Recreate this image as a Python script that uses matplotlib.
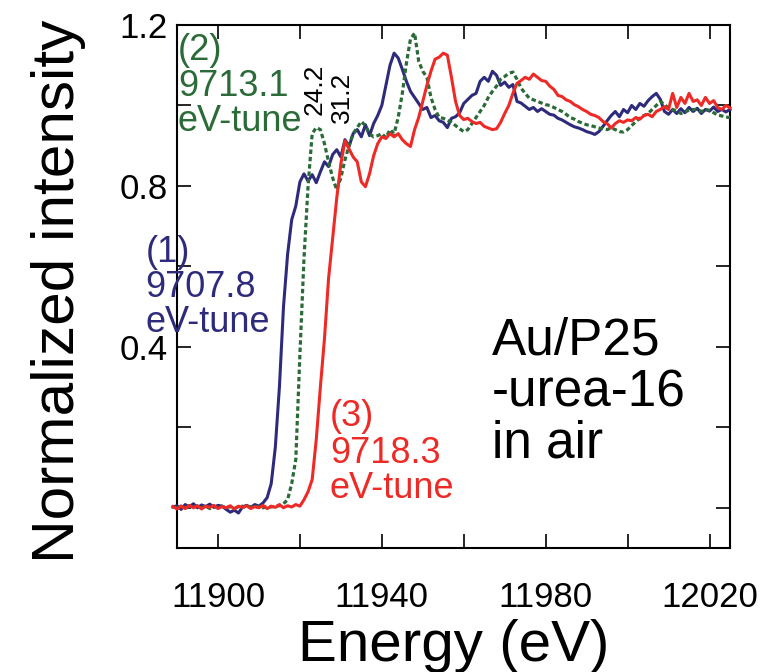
import numpy as np
import matplotlib
matplotlib.use('Agg')
import matplotlib.pyplot as plt

plt.rcParams['font.family'] = ['Liberation Sans', 'DejaVu Sans']

# ---- data ----
energy = np.arange(11889, 12026)  # eV, 1 eV sampling

tune1 = [0.002, 0.005, -0.004, 0.008, 0.002, 0.010, 0.000, 0.007, 0.003, 0.009,
         0.001, 0.006, 0.004, -0.004, -0.011, -0.006, -0.013, 0.002, 0.006, 0.001,
         0.008, 0.004, 0.012, 0.025, 0.06, 0.15, 0.30, 0.50, 0.63, 0.716,
         0.75, 0.81, 0.83, 0.812, 0.828, 0.808, 0.835, 0.86, 0.848, 0.878,
         0.89, 0.872, 0.915, 0.898, 0.93, 0.94, 0.922, 0.952, 0.925, 0.955,
         0.975, 1.00, 1.05, 1.10, 1.13, 1.118, 1.09, 1.06, 1.035, 1.02,
         1.005, 0.99, 0.995, 0.97, 0.975, 0.962, 0.958, 0.945, 0.968, 0.972,
         0.982, 1.005, 1.015, 1.025, 1.03, 1.06, 1.07, 1.06, 1.085, 1.075,
         1.05, 1.058, 1.045, 1.052, 1.01, 1.006, 0.998, 0.99, 0.995, 0.985,
         0.992, 0.985, 0.978, 0.976, 0.968, 0.964, 0.958, 0.952, 0.947, 0.944,
         0.94, 0.935, 0.932, 0.928, 0.935, 0.948, 0.962, 0.975, 0.985, 0.972,
         0.99, 0.982, 1.0, 0.99, 1.005, 0.998, 1.012, 1.022, 1.03, 1.015,
         0.985, 0.978, 0.99, 0.98, 0.992, 0.982, 0.995, 0.985, 0.993, 0.98,
         0.99, 0.986, 0.996, 0.985, 0.99, 0.984, 0.99]

tune2 = [0.002, 0.0, 0.004, -0.002, 0.003, 0.001, 0.005, 0.0, 0.004, -0.002,
         0.003, 0.001, 0.004, 0.0, 0.003, -0.001, 0.002, 0.004, 0.0, 0.003,
         0.001, 0.004, 0.0, 0.003, 0.002, 0.004, 0.005, 0.01, 0.02, 0.06,
         0.12, 0.38, 0.62, 0.80, 0.93, 0.945, 0.94, 0.905, 0.86, 0.82,
         0.79, 0.82, 0.865, 0.90, 0.93, 0.945, 0.96, 0.95, 0.93, 0.922,
         0.925, 0.93, 0.92, 0.94, 0.93, 0.97, 1.03, 1.105, 1.165, 1.18,
         1.11, 1.085, 1.07, 1.02, 0.99, 0.97, 0.968, 0.963, 0.958, 0.95,
         0.942, 0.935, 0.94, 0.955, 0.97, 0.985, 1.0, 1.02, 1.035, 1.048,
         1.065, 1.072, 1.08, 1.083, 1.065, 1.043, 1.03, 1.018, 1.014, 1.01,
         1.006, 1.002, 1.0, 0.995, 0.99, 0.985, 0.978, 0.97, 0.966, 0.96,
         0.956, 0.952, 0.95, 0.947, 0.944, 0.942, 0.94, 0.944, 0.94, 0.935,
         0.934, 0.94, 0.95, 0.96, 0.968, 0.975, 0.98, 0.99, 1.0, 1.01,
         1.002, 0.994, 0.99, 0.986, 0.98, 0.984, 0.988, 0.99, 0.99, 0.985,
         0.99, 0.988, 0.982, 0.976, 0.974, 0.971, 0.97]

tune3 = [0.003, -0.003, 0.004, -0.002, 0.006, 0.0, 0.005, -0.003, 0.004, 0.001,
         0.006, -0.002, 0.003, 0.0, 0.005, -0.003, 0.004, 0.001, 0.005, -0.002,
         0.003, 0.0, 0.006, -0.002, 0.004, 0.001, 0.008, 0.0, 0.005, 0.002,
         0.008, 0.004, 0.02, 0.04, 0.07, 0.17, 0.30, 0.42, 0.57, 0.67,
         0.77, 0.855, 0.912, 0.892, 0.872, 0.86, 0.81, 0.798, 0.83, 0.875,
         0.905, 0.922, 0.918, 0.93, 0.922, 0.93, 0.915, 0.905, 0.898, 0.94,
         0.97, 1.01, 1.05, 1.085, 1.115, 1.12, 1.13, 1.125, 1.07, 1.01,
         0.975, 0.965, 0.968, 0.96, 0.955, 0.958, 0.948, 0.944, 0.94, 0.942,
         0.958, 0.98, 1.0, 1.03, 1.055, 1.062, 1.07, 1.065, 1.078, 1.07,
         1.062, 1.06, 1.048, 1.04, 1.025, 1.022, 1.014, 1.01, 1.002, 0.997,
         0.99, 0.985, 0.978, 0.975, 0.97, 0.96, 0.955, 0.944, 0.955, 0.962,
         0.958, 0.964, 0.962, 0.97, 0.966, 0.975, 0.978, 0.972, 0.985, 0.99,
         0.997, 0.99, 1.03, 0.995, 1.02, 1.005, 1.03, 1.01, 1.014, 1.0,
         1.02, 1.005, 1.012, 0.995, 0.99, 1.0, 0.994]

xticks = [11900, 11920, 11940, 11960, 11980, 12000, 12020]
xticklabels = ['11900', '', '11940', '', '11980', '', '12020']
yticks = [0.0, 0.2, 0.4, 0.6, 0.8, 1.0, 1.2]
yticklabels = ['', '', '0.4', '', '0.8', '', '1.2']

NAVY = '#2e2b7c'
GREEN = '#2a6b38'
RED = '#ee2a26'

W, H = 769, 672
fig = plt.figure(figsize=(W / 100, H / 100), dpi=100)
L, R, T, B = 177, 730, 25, 548
ax = fig.add_axes([L / W, 1 - B / H, (R - L) / W, (B - T) / H])

ax.plot(energy, tune1, color=NAVY, lw=2.2, clip_on=False, zorder=3)
ax.plot(energy, tune2, color=GREEN, lw=2.3, linestyle=(0, (1.4, 0.9)),
        clip_on=False, zorder=3)
ax.plot(energy, tune3, color=RED, lw=2.2, clip_on=False, zorder=4)

ax.set_xlim(11890, 12025)
ax.set_ylim(-0.1, 1.2)
ax.set_xticks(xticks)
ax.set_xticklabels(xticklabels)
ax.set_yticks(yticks)
ax.set_yticklabels(yticklabels)
ax.tick_params(direction='in', length=10, width=1.2, top=True, right=True,
               labelsize=25, colors='black')
ax.tick_params(axis='x', pad=24)
ax.tick_params(axis='y', pad=6.5)
for s in ax.spines.values():
    s.set_linewidth(1.5)

ax.set_xlabel('Energy (eV)', fontsize=42, va='baseline')
ax.xaxis.set_label_coords(0.5, -0.216)
ax.set_ylabel('Normalized intensity', fontsize=43.5)
ax.yaxis.set_label_coords(-0.165, 0.49)

# annotations (data coordinates)
def block(x, ys, lines, color, size):
    for y, s in zip(ys, lines):
        ax.text(x, y, s, color=color, fontsize=size, ha='left', va='baseline')

block(11882.3, [0.612, 0.525, 0.438], ['(1)', '9707.8', 'eV-tune'], NAVY, 26)
block(11890.2, [1.113, 1.024, 0.937], ['(2)', '9713.1', 'eV-tune'], GREEN, 26)
block(11927.3, [0.204, 0.112, 0.025], ['(3)', '9718.3', 'eV-tune'], RED, 26)
block(11966.9, [0.380, 0.251, 0.124], ['Au/P25', '-urea-16', 'in air'], 'black', 37)

ax.text(11923.6, 0.976, '24.2', rotation=90, fontsize=19, ha='center', va='bottom')
ax.text(11930.2, 0.957, '31.2', rotation=90, fontsize=19, ha='center', va='bottom')

fig.savefig('out.png', dpi=100)
